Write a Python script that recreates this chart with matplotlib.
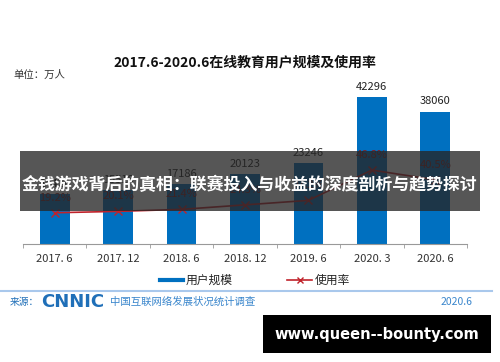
import matplotlib
matplotlib.use("Agg")
import matplotlib.pyplot as plt
from matplotlib.patches import Rectangle
from matplotlib.lines import Line2D

plt.rcParams['font.family'] = ['Noto Sans CJK SC', 'DejaVu Sans']

categories = ["2017. 6", "2017. 12", "2018. 6", "2018. 12", "2019. 6", "2020. 3", "2020. 6"]
users = [14426, 15518, 17186, 20123, 23246, 42296, 38060]
rates = [19.2, 20.1, 21.4, 24.3, 27.2, 46.8, 40.5]
title = "2017.6-2020.6在线教育用户规模及使用率"
banner = "金钱游戏背后的真相：联赛投入与收益的深度剖析与趋势探讨"
site = "www.queen--bounty.com"

W, H = 500, 362
fig = plt.figure(figsize=(W/100, H/100), dpi=100)
fig.patch.set_facecolor('white')

def fx(px): return px / W
def fy(py): return 1 - py / H

ax = fig.add_axes([fx(23), fy(244), fx(444), 174 / H])
ax.patch.set_alpha(0)
x = list(range(len(categories)))
ax.bar(x, users, width=0.47, color='#0070C0', zorder=2)
ax.set_xlim(-0.5, 6.5)
ax.set_ylim(0, 50000)
for xi, v in zip(x, users):
    ax.text(xi, v + 1500, str(v), ha='center', va='bottom', fontsize=8, color='#222222', zorder=3)
for s in ['top', 'right', 'left']:
    ax.spines[s].set_visible(False)
ax.spines['bottom'].set_color('#999999')
ax.set_yticks([])
ax.set_xticks([i + 0.5 for i in range(-1, 7)], minor=True)
ax.set_xticks(x)
ax.set_xticklabels(categories, fontsize=8, color='#333333')
ax.tick_params(axis='x', which='major', length=0, pad=7)
ax.tick_params(axis='x', which='minor', length=3, color='#999999')

ax2 = ax.twinx()
ax2.set_ylim(-1, 111.5)
ax2.plot(x, rates, color='#C0232B', marker='x', markersize=6, linewidth=1.2, zorder=4)
for xi, r in zip(x, rates):
    ax2.text(xi, r + 6.5, f"{r}%", ha='center', va='bottom', fontsize=8, color='#8B1A1A')
ax2.axis('off')

fig.text(fx(245), fy(63), title, ha='center', va='center', fontsize=10, fontweight='bold', color='#111111')
fig.text(fx(13), fy(75), "单位：万人", ha='left', va='center', fontsize=7.5, color='#333333')

# legend
fig.add_artist(Line2D([fx(160), fx(183)], [fy(280), fy(280)], color='#0070C0', lw=3))
fig.text(fx(186), fy(280), "用户规模", ha='left', va='center', fontsize=8.5, color='#222222')
fig.add_artist(Line2D([fx(287), fx(312)], [fy(280), fy(280)], color='#C0232B', lw=1.2))
fig.add_artist(Line2D([fx(299.5)], [fy(280)], color='#C0232B', marker='x', markersize=5, lw=0))
fig.text(fx(315), fy(280), "使用率", ha='left', va='center', fontsize=8.5, color='#222222')

# footer
fig.add_artist(Line2D([0, fx(492)], [fy(291), fy(291)], color='#A9C8EC', lw=1.5))
fig.text(fx(10), fy(302), "来源：", ha='left', va='center', fontsize=7, color='#1F6FB8')
fig.text(fx(41), fy(302), "CNNIC", ha='left', va='center', fontsize=13, fontweight='heavy',
         color='#1F6FB8', family='DejaVu Sans')
fig.text(fx(110), fy(302), "中国互联网络发展状况统计调查", ha='left', va='center', fontsize=7.5, color='#3A86CC')
fig.text(fx(473), fy(302), "2020.6", ha='right', va='center', fontsize=7.5, color='#3A86CC')

# banner overlay
fig.add_artist(Rectangle((fx(20), fy(211)), fx(460), 60 / H, transform=fig.transFigure,
                         facecolor='#262626', alpha=0.78, edgecolor='none', zorder=10))
fig.text(fx(249), fy(185), banner, ha='center', va='center', fontsize=12.2, fontweight='bold',
         color='white', zorder=11)

# site box
fig.add_artist(Rectangle((fx(263), fy(353)), fx(228), 38 / H, transform=fig.transFigure,
                         facecolor='black', edgecolor='none', zorder=10))
fig.text(fx(377), fy(334), site, ha='center', va='center', fontsize=10.5, fontweight='bold',
         color='white', zorder=11, family='DejaVu Sans')

fig.savefig("out.png", dpi=100)
